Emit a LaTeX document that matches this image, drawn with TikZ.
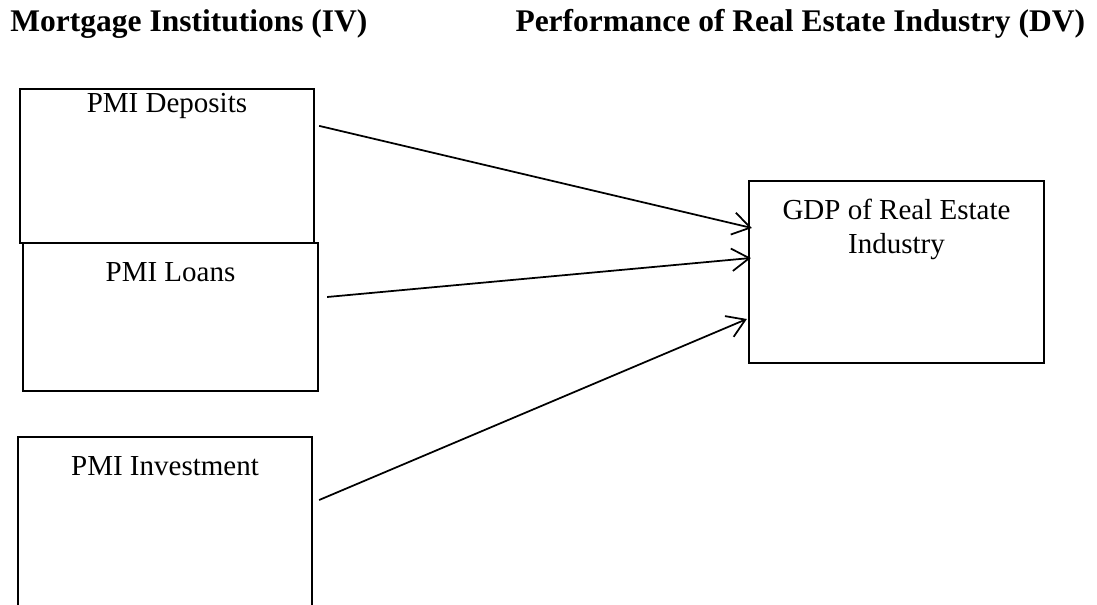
\documentclass[tikz,border=0pt]{standalone}
\usepackage{fontspec}
\setmainfont{Liberation Serif}
\usetikzlibrary{arrows.meta,positioning,calc}

\begin{document}
\begin{tikzpicture}[x=.4pt,y=-.4pt,>={Straight Barb[length=7pt,width=9pt]},font=\fontsize{11.6}{13.2}\selectfont,
 box/.style={draw,line width=.9pt,inner sep=0pt},
 lbl/.style={anchor=base,inner sep=0pt},
 head/.style={anchor=base west,inner sep=0pt,font=\fontsize{12.6}{15}\selectfont\bfseries}]
 \useasboundingbox (0,0) rectangle (1097,605);
 % headings
 \node[head] (iv) at(10,32){Mortgage Institutions (IV)};
 \node[head] (dv) at(515,32){Performance of Real Estate Industry (DV)};
 % boxes
 \foreach \n/\x/\y/\w/\h in {dep/167/166/294/154,loan/170.5/317/295/148,inv/165/523.5/294/173,gdp/896.5/272/295/182}{
  \node[box,minimum width=\w*.4pt,minimum height=\h*.4pt] (\n) at(\x,\y){};}
 \node[lbl] (depT) at(167,113){PMI Deposits};
 \node[lbl] (loanT) at(170.5,281){PMI Loans};
 \node[lbl] (invT) at(165,475){PMI Investment};
 \node[lbl,align=center] (gdpT) at(896.5,253){GDP of Real Estate\\Industry};
 % links
 \draw[->,line width=.7pt] ([shift={(4,38)}]dep.north east)--([shift={(4,-44)}]gdp.west);
 \draw[->,line width=.7pt] ([shift={(8,-20)}]loan.east)--([shift={(3,-14)}]gdp.west);
 \draw[->,line width=.7pt] ([shift={(6,-23.5)}]inv.east)--([shift={(-1,47)}]gdp.west);
\end{tikzpicture}
\end{document}
